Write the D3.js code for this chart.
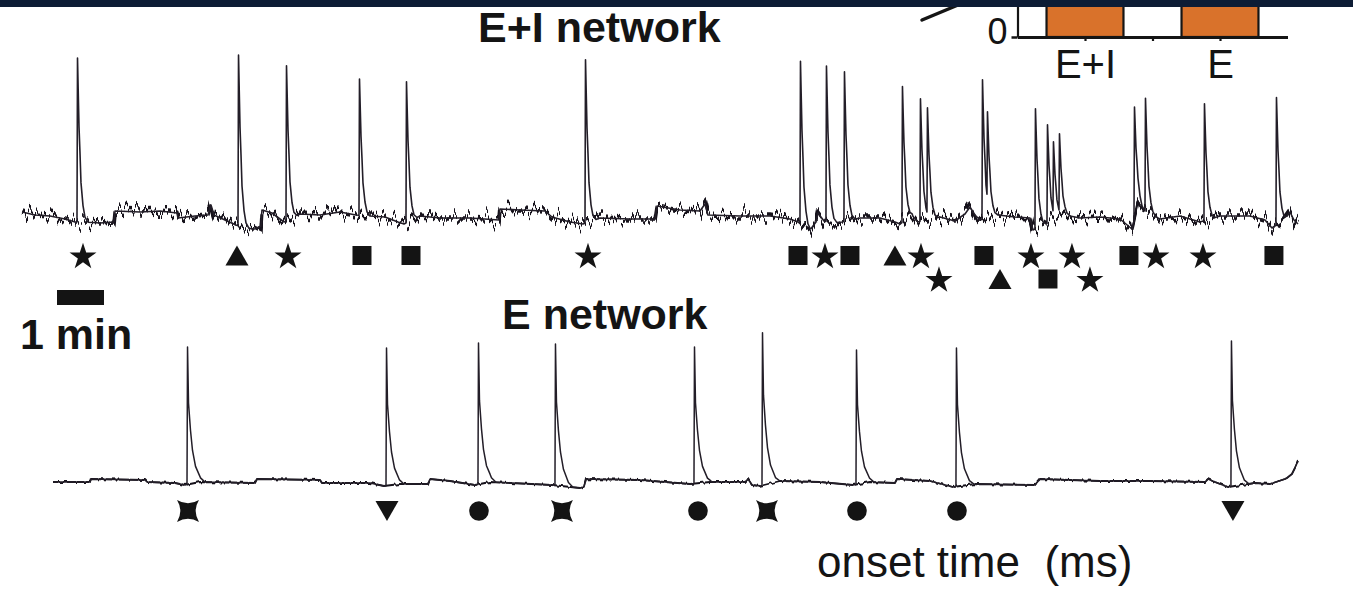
<!DOCTYPE html>
<html>
<head>
<meta charset="utf-8">
<script src="https://cdn.jsdelivr.net/npm/d3@7"></script>
<style>
  html, body { margin: 0; padding: 0; background: #ffffff; }
  svg { display: block; }
  text { font-family: "Liberation Sans", Arial, Helvetica, sans-serif; fill: #141414; }
</style>
</head>
<body>
<svg id="fig" width="1353" height="589"></svg>
<script>
// ---------- Recording time axis (minutes) ----------
const timeDomain = [0, 27.15];

// ---------- E+I network: calcium trace ----------
// network-event onsets (min) and peak levels (a.u.)
const eiSpikeTimes = [1.170, 4.596, 5.617, 7.170, 8.170, 11.979, 16.553, 17.106, 17.489, 18.723, 19.106,
                      19.255, 20.426, 20.532, 21.553, 21.809, 21.936, 22.064, 23.660, 23.894, 25.149, 26.681];
const eiSpikePeaks = [158, 161, 150, 137, 134, 156, 155, 150, 144, 129, 117,
                      108, 136, 104, 107, 91, 74, 82, 107, 118, 112, 118];
// slow baseline drift between events
const eiBaseTimes = [0, 0.277, 0.596, 0.915, 1.128, 1.340, 1.660, 1.957, 1.979, 2.511, 2.936, 3.298, 3.319,
  3.681, 3.957, 4.021, 4.085, 4.319, 4.553, 4.745, 4.957, 5.085, 5.106, 5.319, 5.489, 5.574, 5.915, 6.340,
  6.766, 7.106, 7.404, 7.723, 8.000, 8.128, 8.468, 8.894, 9.532, 10.149, 10.170, 10.596, 11.128, 11.277,
  11.660, 11.936, 12.298, 12.936, 13.468, 13.511, 14.000, 14.426, 14.532, 14.596, 15.277, 15.915, 16.340,
  16.511, 16.766, 16.894, 16.936, 17.064, 17.277, 17.447, 17.830, 18.255, 18.574, 18.681, 18.936, 19.064,
  19.532, 19.851, 20.064, 20.170, 20.277, 20.383, 20.766, 21.128, 21.447, 21.511, 22.191, 22.511, 22.936,
  23.362, 23.617, 23.745, 23.851, 24.213, 24.638, 25.064, 25.489, 26.128, 26.447, 26.596, 26.872, 26.979,
  27.064, 27.149];
const eiBaseLevels = [4, 1, 0, -3, -6, -6, -7, -6, 5, 4, 5, 3, -2,
  0, 1, 11, 1, -4, -9, -12, -13, -10, 6, 3, -3, -6, 2, 1,
  4, 1, 0, -1, -6, -8, 0, -2, -2, -4, 7, 6, 5, -1,
  -6, -8, -2, -3, -3, 10, 6, 5, 12, 1, 0, 0, -3,
  -6, -14, -6, 3, -5, -7, -6, -2, -2, -6, -8, 1, -6,
  -1, -5, 2, 9, 1, -4, 1, -1, -2, -14, 1, -2, -1,
  -3, -13, 11, 6, -3, 0, -6, 0, 0, -4, -12, -3, 4,
  -4, -8];
// event waveform: time after onset (min) and fraction of peak
const eiKernelDt   = [0, 0.011, 0.026, 0.043, 0.064, 0.085, 0.128, 0.170, 0.234];
const eiKernelFrac = [0, 1, 0.80, 0.58, 0.42, 0.24, 0.10, 0.03, 0];
// event classes below the trace
const eiMarkTimes  = [1.298, 4.574, 5.660, 7.234, 8.277, 12.043, 16.511, 17.085, 17.617, 18.574, 19.128,
                      19.511, 20.468, 20.809, 21.468, 21.830, 22.340, 22.723, 23.553, 24.128, 25.128, 26.638];
const eiMarkShapes = ["star", "triangle", "star", "square", "square", "star", "square", "star", "square", "triangle", "star",
                      "star", "square", "triangle", "star", "square", "star", "star", "square", "star", "star", "square"];
const eiMarkRows   = [0, 0, 0, 0, 0, 0, 0, 0, 0, 0, 0,
                      1, 0, 1, 0, 1, 0, 1, 0, 0, 0, 0];

// ---------- E network: calcium trace ----------
const eSpikeTimes = [3.511, 7.745, 9.702, 11.340, 14.298, 15.745, 17.745, 19.872, 25.723];
const eSpikePeaks = [136, 135, 140, 139, 136, 150, 133, 135, 142];
const eBaseTimes = [0.660, 1.447, 1.468, 2.617, 2.660, 3.255, 3.468, 3.787, 4.957, 5.000, 6.340, 6.383,
  7.404, 7.702, 8.043, 8.638, 8.681, 9.106, 9.638, 9.957, 11.277, 11.872, 11.957, 12.000, 13.149, 14.213,
  14.638, 15.383, 15.447, 15.532, 15.702, 16.128, 16.979, 17.681, 18.043, 18.574, 18.617, 19.319, 19.809,
  20.277, 21.553, 21.660, 22.936, 24.000, 25.170, 25.234, 25.383, 25.660, 26.234, 26.553, 26.872, 26.915,
  27.021, 27.085, 27.149];
const eBaseLevels = [1, 1, 4, 3, 1, 0, -2, 1, 0, 4, 3, 0,
  0, -3, -1, -1, 4, 2, -2, 1, -2, -5, -4, 4, 3, -1,
  1, 1, 4, -2, -3, 2, 1, -2, 1, 0, 4, 2, -4,
  -1, -2, 4, 2, 2, 1, 4, 1, -4, 0, -1, 4, 5,
  9, 15, 22];
const eKernelDt   = [0, 0.011, 0.032, 0.074, 0.117, 0.181, 0.287, 0.383];
const eKernelFrac = [0, 1, 0.59, 0.39, 0.24, 0.12, 0.03, 0];
const eMarkTimes  = [3.532, 7.766, 9.723, 11.489, 14.383, 15.851, 17.766, 19.894, 25.766];
const eMarkShapes = ["cross4", "triangleDown", "circle", "cross4", "circle", "cross4", "circle", "circle", "triangleDown"];

// ---------- inset: bar summary ----------
const insetCategories = ["E+I", "E"];
const insetPositions  = [1, 2];
const insetValues     = [0.62, 0.58];
const insetTickValues = [1, 1.5, 2];

// ---------- text ----------
const titleEI = "E+I network";
const titleE  = "E network";
const scaleLabel = "1 min";
const axisNote = "onset time  (ms)";

// ======================================================================
const svg = d3.select("#fig");
const W = 1353, H = 589;

const defs = svg.append("defs");
// recording noise: vertical-only jitter of the drawn baseline
function jitterFilter(id, freq, amount, region) {
  const f = defs.append("filter").attr("id", id)
    .attr("filterUnits", "userSpaceOnUse")
    .attr("x", region[0]).attr("y", region[1]).attr("width", region[2]).attr("height", region[3])
    .attr("color-interpolation-filters", "sRGB");
  f.append("feTurbulence").attr("type", "fractalNoise").attr("baseFrequency", freq)
    .attr("numOctaves", 2).attr("seed", 7).attr("result", "noise");
  f.append("feColorMatrix").attr("in", "noise").attr("type", "matrix")
    .attr("values", "0 0 0 0 0.5  0 1 0 0 0  0 0 1 0 0  0 0 0 0 1").attr("result", "vnoise");
  f.append("feDisplacementMap").attr("in", "SourceGraphic").attr("in2", "vnoise")
    .attr("scale", amount).attr("xChannelSelector", "R").attr("yChannelSelector", "G");
}
jitterFilter("jitterEI", "0.28 0.004", 32, [0, 150, W, 110]);
jitterFilter("jitterE", "0.25 0.004", 5, [0, 440, W, 70]);

const x = d3.scaleLinear().domain(timeDomain).range([22, 1298]);

// piecewise value of a breakpoint list at time t
function valueAt(ts, vs, t) {
  if (t <= ts[0]) return vs[0];
  if (t >= ts[ts.length - 1]) return vs[vs.length - 1];
  const i = d3.bisectRight(ts, t);
  const a = ts[i - 1], b = ts[i];
  return vs[i - 1] + (vs[i] - vs[i - 1]) * (t - a) / (b - a);
}

function buildTrace(baseT, baseV, spT, spP, kDt, kFr) {
  const amps = spT.map((t, i) => spP[i] - valueAt(baseT, baseV, t));
  const kEnd = kDt[kDt.length - 1];
  let samples = baseT.slice();
  spT.forEach(t0 => kDt.forEach(dt => samples.push(t0 + dt)));
  samples = Array.from(new Set(samples.map(t => +t.toFixed(5)))).sort((a, b) => a - b)
    .filter(t => t >= baseT[0] && t <= baseT[baseT.length - 1]);
  return samples.map(t => {
    let ev = 0;
    spT.forEach((t0, i) => {
      const dt = t - t0;
      if (dt >= 0 && dt <= kEnd) ev = Math.max(ev, amps[i] * valueAt(kDt, kFr, dt));
    });
    return { t, v: valueAt(baseT, baseV, t) + ev };
  });
}

// ----- inset bar chart (top right, partly under the header band) -----
const ix = d3.scaleLinear().domain([0.5, 2.5]).range([1017.5, 1287.5]);
const iy = d3.scaleLinear().domain([0, 1]).range([37, -60]);
const inset = svg.append("g");
inset.selectAll("rect.bar").data(insetValues).join("rect")
  .attr("class", "bar")
  .attr("x", (d, i) => ix(insetPositions[i] - 0.285))
  .attr("width", ix(1.285) - ix(0.715))
  .attr("y", d => iy(d))
  .attr("height", d => iy(0) - iy(d))
  .attr("fill", "#d9722b").attr("stroke", "#151515").attr("stroke-width", 2.2);

const xAxisInset = d3.axisBottom(ix).tickValues(insetTickValues).tickSize(4).tickSizeOuter(0)
  .tickFormat(d => { const k = insetPositions.indexOf(d); return k >= 0 ? insetCategories[k] : ""; });
const gx = inset.append("g").attr("transform", `translate(0,${iy(0)})`).call(xAxisInset);
gx.select(".domain").attr("stroke", "#151515").attr("stroke-width", 3);
gx.selectAll(".tick line").attr("stroke", "#151515").attr("stroke-width", 2.2);
gx.selectAll(".tick text").attr("font-size", 40).attr("font-family", null).attr("fill", "#141414")
  .attr("y", 41).attr("dy", null);

const yAxisInset = d3.axisLeft(iy).tickValues([0]).tickSize(6).tickSizeOuter(0).tickFormat(d3.format("d"));
const gy = inset.append("g").attr("transform", `translate(${ix(0.5)},0)`).call(yAxisInset);
gy.select(".domain").attr("stroke", "#151515").attr("stroke-width", 2.2);
gy.selectAll(".tick line").attr("stroke", "#151515").attr("stroke-width", 2.5);
gy.selectAll(".tick text").attr("font-size", 36).attr("font-family", null).attr("fill", "#141414")
  .attr("x", -10).attr("y", 6).attr("dy", null);

// comparison mark left of the inset axis
inset.append("line").attr("x1", 922).attr("y1", 20).attr("x2", 958).attr("y2", 5)
  .attr("stroke", "#151515").attr("stroke-width", 3.5).attr("stroke-linecap", "round");

// header band
svg.append("rect").attr("x", 0).attr("y", 0).attr("width", W).attr("height", 7).attr("fill", "#0d1c35");

// ----- E+I trace: noisy baseline under the clean event waveform -----
const yEI = d3.scaleLinear().domain([0, 160]).range([216, 56]);
const eiTrace = buildTrace(eiBaseTimes, eiBaseLevels, eiSpikeTimes, eiSpikePeaks, eiKernelDt, eiKernelFrac);
const eiLine = d3.line().x(d => x(d.t)).y(d => yEI(d.v));
const eiBase = eiBaseTimes.map((t, i) => ({ t, v: eiBaseLevels[i] }));
svg.append("path").datum(eiBase)
  .attr("d", eiLine)
  .attr("fill", "none").attr("stroke", "#16121b").attr("stroke-width", 3.4)
  .attr("stroke-linejoin", "round")
  .attr("filter", "url(#jitterEI)");
svg.append("path").datum(eiTrace)
  .attr("d", eiLine)
  .attr("fill", "none").attr("stroke", "#231e28").attr("stroke-width", 1.6)
  .attr("stroke-linejoin", "round");

// ----- E trace -----
const yE = d3.scaleLinear().domain([0, 150]).range([483, 333]);
const eTrace = buildTrace(eBaseTimes, eBaseLevels, eSpikeTimes, eSpikePeaks, eKernelDt, eKernelFrac);
const eLine = d3.line().x(d => x(d.t)).y(d => yE(d.v));
const eBase = eBaseTimes.map((t, i) => ({ t, v: eBaseLevels[i] }));
svg.append("path").datum(eBase)
  .attr("d", eLine)
  .attr("fill", "none").attr("stroke", "#16121b").attr("stroke-width", 1.8)
  .attr("stroke-linejoin", "round")
  .attr("filter", "url(#jitterE)");
svg.append("path").datum(eTrace)
  .attr("d", eLine)
  .attr("fill", "none").attr("stroke", "#231e28").attr("stroke-width", 1.5)
  .attr("stroke-linejoin", "round");

// ----- event symbols -----
const cross4 = {
  draw(ctx, size) {
    const r = Math.sqrt(size) / 2;       // half-width of the bounding square
    const c = r * 0.4;                   // pull of the concave sides
    ctx.moveTo(-r, -r);
    ctx.quadraticCurveTo(0, -c, r, -r);
    ctx.quadraticCurveTo(c, 0, r, r);
    ctx.quadraticCurveTo(0, c, -r, r);
    ctx.quadraticCurveTo(-c, 0, -r, -r);
    ctx.closePath();
  }
};
const symbolSpec = {
  star:         { type: d3.symbolStar,     size: 226, rot: 0,   dy: 1.35 },
  triangle:     { type: d3.symbolTriangle, size: 229, rot: 0,   dy: 3.3 },
  triangleDown: { type: d3.symbolTriangle, size: 229, rot: 180, dy: -3.3 },
  square:       { type: d3.symbolSquare,   size: 361, rot: 0,   dy: 0 },
  circle:       { type: d3.symbolCircle,   size: 300, rot: 0,   dy: 0 },
  cross4:       { type: cross4,            size: 480, rot: 0,   dy: 0 }
};
const eiRowY = [255.5, 279];
svg.append("g").selectAll("path").data(eiMarkTimes).join("path")
  .attr("d", (d, i) => d3.symbol(symbolSpec[eiMarkShapes[i]].type, symbolSpec[eiMarkShapes[i]].size)())
  .attr("transform", (d, i) => {
    const s = symbolSpec[eiMarkShapes[i]];
    return `translate(${x(d)},${eiRowY[eiMarkRows[i]] + s.dy}) rotate(${s.rot})`;
  })
  .attr("fill", "#141414");

svg.append("g").selectAll("path").data(eMarkTimes).join("path")
  .attr("d", (d, i) => d3.symbol(symbolSpec[eMarkShapes[i]].type, symbolSpec[eMarkShapes[i]].size)())
  .attr("transform", (d, i) => {
    const s = symbolSpec[eMarkShapes[i]];
    return `translate(${x(d)},${511 + s.dy}) rotate(${s.rot})`;
  })
  .attr("fill", "#141414");

// ----- scale bar: 1 minute -----
svg.append("rect").attr("x", x(0) + 35).attr("y", 290)
  .attr("width", x(1) - x(0)).attr("height", 15).attr("fill", "#141414");

// ----- labels -----
svg.append("text").attr("x", 478).attr("y", 42).attr("font-size", 43).attr("font-weight", "bold").text(titleEI);
svg.append("text").attr("x", 502).attr("y", 329).attr("font-size", 43).attr("font-weight", "bold").text(titleE);
svg.append("text").attr("x", 20).attr("y", 349).attr("font-size", 43).attr("font-weight", "bold").text(scaleLabel);
svg.append("text").attr("x", 817).attr("y", 577).attr("font-size", 44).attr("xml:space", "preserve")
  .style("white-space", "pre").text(axisNote);
</script>
</body>
</html>
